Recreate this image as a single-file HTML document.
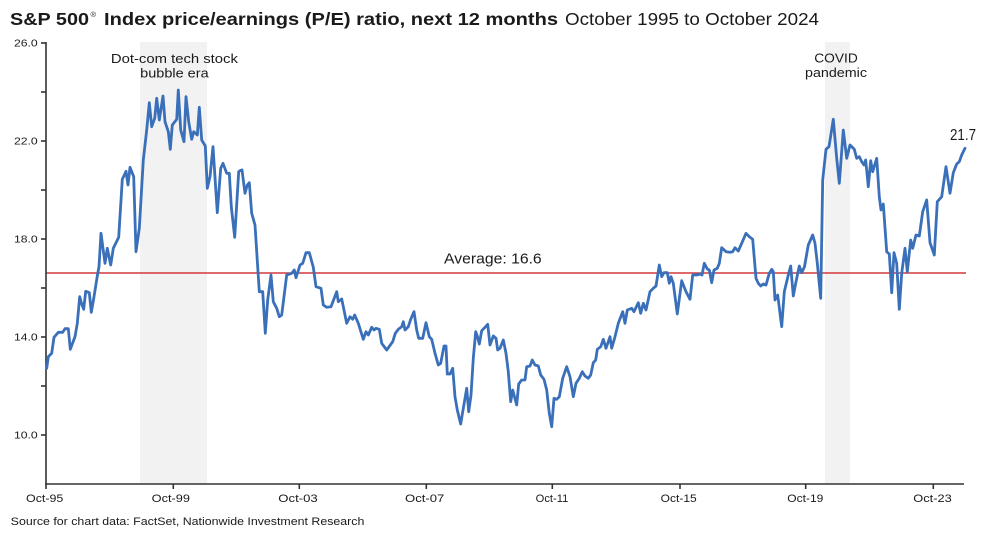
<!DOCTYPE html>
<html>
<head>
<meta charset="utf-8">
<style>
  html,body{margin:0;padding:0;background:#fff;}
  svg{display:block;}
  text{font-family:"Liberation Sans", sans-serif;fill:#1a1a1a;}
</style>
</head>
<body>
<svg width="1000" height="533" viewBox="0 0 1000 533" xmlns="http://www.w3.org/2000/svg">
  <rect x="0" y="0" width="1000" height="533" fill="#ffffff"/>

  <!-- Title -->
  <text x="10" y="25" font-size="17.5" font-weight="bold" textLength="79" lengthAdjust="spacingAndGlyphs">S&amp;P 500</text>
  <text x="90.5" y="17" font-size="7.5">®</text>
  <text x="104" y="25" font-size="17.5" font-weight="bold" textLength="454" lengthAdjust="spacingAndGlyphs">Index price/earnings (P/E) ratio, next 12 months</text>
  <text x="565" y="25" font-size="17.5" textLength="254" lengthAdjust="spacingAndGlyphs">October 1995 to October 2024</text>

  <!-- Shaded periods -->
  <rect x="140" y="42" width="67" height="442" fill="#f2f2f2"/>
  <rect x="825" y="42" width="25" height="442" fill="#f2f2f2"/>

  <!-- Annotations -->
  <text x="174.4" y="63" font-size="13" text-anchor="middle" textLength="127" lengthAdjust="spacingAndGlyphs">Dot-com tech stock</text>
  <text x="174.4" y="77.5" font-size="13" text-anchor="middle" textLength="68.5" lengthAdjust="spacingAndGlyphs">bubble era</text>
  <text x="836" y="62.5" font-size="13" text-anchor="middle" textLength="43.5" lengthAdjust="spacingAndGlyphs">COVID</text>
  <text x="836" y="77" font-size="13" text-anchor="middle" textLength="62" lengthAdjust="spacingAndGlyphs">pandemic</text>

  <!-- Average line -->
  <line x1="46" y1="273" x2="966" y2="273" stroke="#d2383b" stroke-width="1.6"/>
  <text x="444" y="263.3" font-size="15" textLength="97.7" lengthAdjust="spacingAndGlyphs">Average: 16.6</text>

  <!-- Axes -->
  <g stroke="#333" stroke-width="1.6" fill="none">
    <line x1="46" y1="42" x2="46" y2="485"/>
    <line x1="45.2" y1="484" x2="964" y2="484"/>
    <!-- y ticks -->
    <line x1="41" y1="43" x2="46" y2="43"/>
    <line x1="41" y1="92" x2="46" y2="92"/>
    <line x1="41" y1="141" x2="46" y2="141"/>
    <line x1="41" y1="190" x2="46" y2="190"/>
    <line x1="41" y1="239" x2="46" y2="239"/>
    <line x1="41" y1="288" x2="46" y2="288"/>
    <line x1="41" y1="337" x2="46" y2="337"/>
    <line x1="41" y1="386" x2="46" y2="386"/>
    <line x1="41" y1="435" x2="46" y2="435"/>
    <!-- x ticks -->
    <line x1="46" y1="484" x2="46" y2="489"/>
    <line x1="173.3" y1="484" x2="173.3" y2="489"/>
    <line x1="299.3" y1="484" x2="299.3" y2="489"/>
    <line x1="426.3" y1="484" x2="426.3" y2="489"/>
    <line x1="552.3" y1="484" x2="552.3" y2="489"/>
    <line x1="680" y1="484" x2="680" y2="489"/>
    <line x1="805.7" y1="484" x2="805.7" y2="489"/>
    <line x1="933.3" y1="484" x2="933.3" y2="489"/>
  </g>

  <!-- Y labels -->
  <g font-size="10.5" text-anchor="end">
    <text x="37.7" y="46.6" textLength="23.7" lengthAdjust="spacingAndGlyphs">26.0</text>
    <text x="37.7" y="144.3" textLength="23.7" lengthAdjust="spacingAndGlyphs">22.0</text>
    <text x="37.7" y="242.4" textLength="23.7" lengthAdjust="spacingAndGlyphs">18.0</text>
    <text x="37.7" y="340.5" textLength="23.7" lengthAdjust="spacingAndGlyphs">14.0</text>
    <text x="37.7" y="438.6" textLength="23.7" lengthAdjust="spacingAndGlyphs">10.0</text>
  </g>

  <!-- X labels -->
  <g font-size="11" text-anchor="middle">
    <text x="44.7" y="502" textLength="37.3" lengthAdjust="spacingAndGlyphs">Oct-95</text>
    <text x="170.8" y="502" textLength="38.3" lengthAdjust="spacingAndGlyphs">Oct-99</text>
    <text x="298" y="502" textLength="39.4" lengthAdjust="spacingAndGlyphs">Oct-03</text>
    <text x="424.7" y="502" textLength="39.3" lengthAdjust="spacingAndGlyphs">Oct-07</text>
    <text x="552" y="502" textLength="32.6" lengthAdjust="spacingAndGlyphs">Oct-11</text>
    <text x="678.7" y="502" textLength="36" lengthAdjust="spacingAndGlyphs">Oct-15</text>
    <text x="805.3" y="502" textLength="36" lengthAdjust="spacingAndGlyphs">Oct-19</text>
    <text x="932.5" y="502" textLength="38.4" lengthAdjust="spacingAndGlyphs">Oct-23</text>
  </g>

  <!-- Series -->
  <polyline fill="none" stroke="#3a70ba" stroke-width="2.8" stroke-linejoin="round" stroke-linecap="round" points="
46.7,368.3 48.3,356.7 51.7,353.3 54,337.3 58.3,332.3 62.7,332.3 65,328.7 68.3,328.7 70.3,349.3 75,336.7 77.3,323.3 79.7,296.7 81.7,304 83.7,309.3 85.7,291.3 89.3,292.7 91.3,312.3 94,296.7 97.3,276 99,266.7 101,233.3 105,263.3 107.3,248.3 110.7,265 113.3,248.3 118.7,237.3 122.3,179.3 126,171.3 128,185 130,167.3 133.7,176.7 136,251.7 139.3,228.3 143.3,160 146.7,130 149.3,102.7 151.7,126.7 154.7,118.3 156.7,98.3 159.3,120 163,96 165,121.7 168.3,131.7 170.3,149.3 172.3,125 176.7,119.3 178.3,90 180.7,130 184,141.7 186,96.7 188.7,121.7 191.7,139.3 193.7,131.7 197.3,135 199.3,107.3 201.7,140 205.3,146 207.3,188.3 210,176.7 213,146.7 217.3,212.7 220.7,168.3 223,163.3 226.7,173.3 229.3,173.3 231.3,206.7 234.7,237.3 238.7,171.7 240,170.7
242,170 245,193.3 247.3,185 249.3,182.7 251.7,213.3 255,225 259.3,291.7 262.7,291.7 265.3,333.3 267.7,300 271,275 273.3,301.7 276.7,308.3 279.3,316.7 281.7,315 286.7,275 291.7,273.3 294.3,270 296,277.7 300,265 302.7,263.3 306,252.7 309.3,252.7 313.3,267.3 316,286.7 321,288.3 323.3,305 326.7,307.3 331,306.7 336.7,291.7 338.3,301.7 341.7,299 346.7,323.3 350,316.7 352.7,319.3 354.7,315 358.3,323.3 363.3,339.3 366,331.7 368.3,335 371.7,327.3 374,330 376,328.3 379.3,329.3 381.7,343.3 386.7,350 392.7,341.7 395.3,333.3 398.3,329.3 401.7,326.7 403.3,321.7 405,330 408.3,326.7 410.7,319.3 414,311.7 416.7,330 418.7,338.3
422.7,338.3 426,322.7 429.3,336.7 431.7,339.3 435,353.3 438.3,365 440.7,363.3 444,346 446,346 447.3,374 450,374 452.7,368.3 455,396.7 457.3,410 460.7,424 463.3,408.3 466.7,388.3 468.7,411.7 471,395 473.3,358.3 475.7,331.7 477.3,336 479.3,344 481.7,330.7 485,327.3 487.7,324.3 490,345 493.3,336 496,338.3 497.7,350 500,348.3 503.3,340 506,353.3 508.3,371.7 510.7,401.7 512.7,390 516.7,405 518.7,384 521.7,380 525,380 526.7,366.7 530,366 532.3,360 535,365 538.3,366 540.7,375 544,379.3 546.7,390 549.3,413.3 551.7,426.7 554,398.3 556.7,399.3 559.3,396.7 562.7,378.3 566.7,366.7 570,376.7 573.3,396.7 576,383.3 579.3,378.3 582.3,371.7 585,376 588.3,378.3 590.7,375 593.3,362.7 595.7,360 597.3,349.3 600.7,346.7 603.3,339.3 606,348.3
610,336.7 611.7,348.3 615,336.7 618.3,323.3 622.7,311.7 625,323.3 627.3,310 631.7,308.3 634,311.7 638.3,302.7 640.7,313.3 643.3,303.3 646,310 650,291.7 653.3,288.3 656,286 659.3,265 661.7,276.7 664,272.7 667.3,272.7 669.3,283.3 671,276.7 673.3,283.3 677.3,314 681.7,280.7 686,291.7 690,299.3 692.7,275 696.7,275 700,274 702,275 704.3,263.3 707.3,269 709.3,270 711.7,282.7 714,270 717.3,268.3 719.3,263.3 721.7,247.7 726,251.7 730,252.3 732.7,251.7 735,247.7 738.3,251 741.7,243.3 746,233.3 749.3,236.7 752.7,239.3 756,278.3 758.3,283.3 760.7,286 763.3,284 766,285 769.3,273.3 771.7,269.3 773.3,271.7 775,300 777.7,295 781.7,326.7 784.3,291.7 788.3,275 790.7,266 793.3,296 796,281.7 799.3,266
801.7,272.7 804.5,266.7 808.3,245 812.7,235 815,243.3 817.3,263.3 820.7,298.3 822.7,180 826,149.3 829,146.7 833.3,119.3 836.7,158.3 839.3,183.3 843.3,130 846.7,158.3 850,145 854.3,149.3 856.7,158.3 859.3,156.7 861.7,161.7 864,165 865.7,160 868.3,186.7 870.7,160.7 872.7,171.7 876.7,158.3 879.3,196.7 881,210 883.3,204 886.7,251.7 889.3,254 891.7,292.7 894,252.7 896.7,263.3 899.3,309.3 901.7,273.3 905,248.3 907.3,271.7 910.7,240 912.7,248.3 916,235 919.3,236 922.7,211.7 926.7,200 930,242.7 934.3,255 937.3,201.7 941.7,196.7 946,166.7 950,193.3 953.3,172.7 956.7,164 959.3,161.7 961.7,155 965,148.3"/>

  <!-- End label -->
  <text x="950" y="140" font-size="15.5" fill="#3a3a3a" textLength="26" lengthAdjust="spacingAndGlyphs">21.7</text>

  <!-- Source -->
  <text x="10.7" y="525" font-size="11" textLength="353.7" lengthAdjust="spacingAndGlyphs">Source for chart data: FactSet, Nationwide Investment Research</text>
</svg>
</body>
</html>
